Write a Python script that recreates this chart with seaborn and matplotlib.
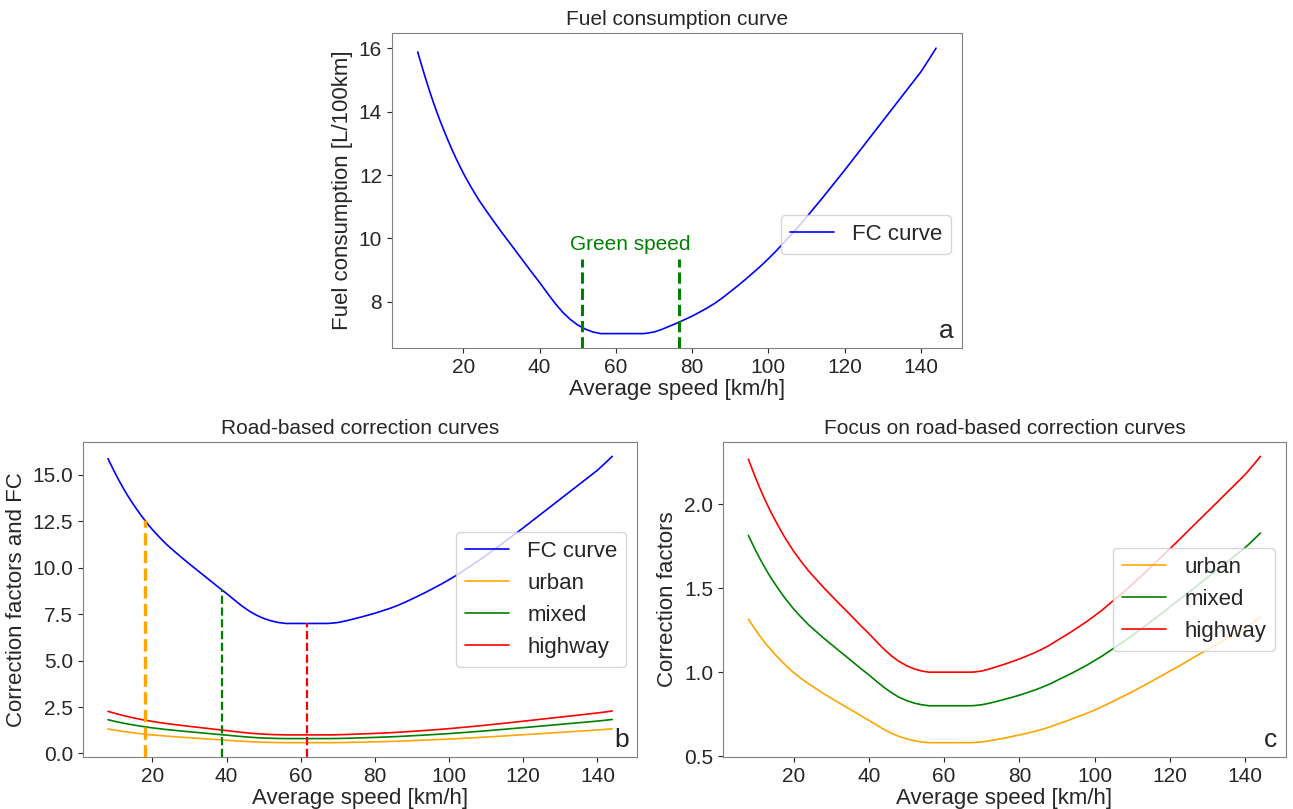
import numpy as np
import pandas as pd
import seaborn as sns
import matplotlib
matplotlib.use('Agg')
import matplotlib.pyplot as plt

# ---------- data ----------
speed = [8, 9, 10, 11, 12, 13, 14, 15, 16, 17, 18, 19, 20,
         22, 24, 26, 28, 30, 32, 34, 36, 38, 40, 42, 44, 46, 48, 50, 52, 54, 56,
         60, 64, 67, 68,
         70, 72, 74, 76, 78, 80, 82, 84, 86, 88, 90, 92, 94, 96, 98,
         100, 102, 104, 106, 108, 110, 112, 114, 116, 118,
         120, 122, 124, 126, 128, 130, 132, 134, 136, 138, 140, 142, 144]

fc = [15.88, 15.47, 15.07, 14.69, 14.33, 13.99, 13.67, 13.37, 13.08, 12.80, 12.54, 12.29, 12.05,
      11.62, 11.22, 10.87, 10.53, 10.20, 9.88, 9.56, 9.24, 8.92, 8.61, 8.28, 7.96, 7.68, 7.45, 7.27, 7.14, 7.05, 7.00,
      7.00, 7.00, 7.00, 7.01,
      7.05, 7.13, 7.23, 7.33, 7.44, 7.55, 7.68, 7.81, 7.96, 8.13, 8.32, 8.51, 8.71, 8.92, 9.13,
      9.36, 9.60, 9.86, 10.12, 10.39, 10.67, 10.96, 11.25, 11.55, 11.85,
      12.15, 12.46, 12.77, 13.08, 13.39, 13.70, 14.01, 14.32, 14.63, 14.94, 15.25, 15.62, 16.00]

highway = [2.269, 2.210, 2.153, 2.099, 2.047, 1.999, 1.953, 1.910, 1.869, 1.829, 1.791, 1.756, 1.721,
           1.660, 1.603, 1.553, 1.504, 1.457, 1.411, 1.366, 1.320, 1.274, 1.230, 1.183, 1.137, 1.097, 1.064, 1.039, 1.020, 1.007, 1.000,
           1.000, 1.000, 1.000, 1.001,
           1.007, 1.019, 1.033, 1.047, 1.063, 1.079, 1.097, 1.116, 1.137, 1.161, 1.189, 1.216, 1.244, 1.274, 1.304,
           1.337, 1.371, 1.409, 1.446, 1.484, 1.524, 1.566, 1.607, 1.650, 1.693,
           1.736, 1.780, 1.824, 1.869, 1.913, 1.957, 2.001, 2.046, 2.090, 2.134, 2.179, 2.231, 2.286]

mixed = [1.815, 1.768, 1.722, 1.679, 1.638, 1.599, 1.562, 1.528, 1.495, 1.463, 1.433, 1.405, 1.377,
         1.328, 1.282, 1.242, 1.203, 1.166, 1.129, 1.093, 1.056, 1.019, 0.984, 0.946, 0.910, 0.878, 0.851, 0.831, 0.816, 0.806, 0.800,
         0.800, 0.800, 0.800, 0.801,
         0.806, 0.815, 0.826, 0.838, 0.850, 0.863, 0.878, 0.893, 0.910, 0.929, 0.951, 0.973, 0.995, 1.019, 1.043,
         1.070, 1.097, 1.127, 1.157, 1.187, 1.219, 1.253, 1.286, 1.320, 1.354,
         1.389, 1.424, 1.459, 1.495, 1.530, 1.566, 1.601, 1.637, 1.672, 1.707, 1.743, 1.785, 1.829]

urban = [1.316, 1.282, 1.249, 1.217, 1.187, 1.159, 1.133, 1.108, 1.084, 1.061, 1.039, 1.018, 0.998,
         0.963, 0.930, 0.901, 0.872, 0.845, 0.818, 0.792, 0.766, 0.739, 0.713, 0.686, 0.659, 0.636, 0.617, 0.603, 0.592, 0.584, 0.580,
         0.580, 0.580, 0.580, 0.581,
         0.584, 0.591, 0.599, 0.607, 0.617, 0.626, 0.636, 0.647, 0.659, 0.673, 0.690, 0.705, 0.722, 0.739, 0.756,
         0.775, 0.795, 0.817, 0.839, 0.861, 0.884, 0.908, 0.932, 0.957, 0.982,
         1.007, 1.032, 1.058, 1.084, 1.110, 1.135, 1.161, 1.187, 1.212, 1.238, 1.264, 1.294, 1.326]

green_speed = [51.0, 76.5]
green_top = 9.35

road_types = ['urban', 'mixed', 'highway']
road_colors = ['orange', 'green', 'red']
road_speeds = [18.0, 38.8, 61.6]
road_fc = [12.55, 8.80, 7.00]
road_lw = [2.4, 1.6, 1.6]

df = pd.DataFrame({'speed': speed, 'FC curve': fc, 'urban': urban,
                   'mixed': mixed, 'highway': highway})

# ---------- style ----------
sns.set_style('ticks', {'axes.edgecolor': '0.5'})
plt.rcParams['font.family'] = ['Liberation Sans', 'DejaVu Sans']
plt.rcParams['font.size'] = 15
plt.rcParams['xtick.labelsize'] = 15
plt.rcParams['ytick.labelsize'] = 15
plt.rcParams['axes.labelsize'] = 16
plt.rcParams['axes.titlesize'] = 15
plt.rcParams['legend.fontsize'] = 16

fig = plt.figure(figsize=(12.93, 8.09), dpi=100)
ax_a = fig.add_axes([0.303, 0.570, 0.441, 0.389])
ax_b = fig.add_axes([0.064, 0.0643, 0.429, 0.3893])
ax_c = fig.add_axes([0.559, 0.0643, 0.4356, 0.3893])

# ---------- a: fuel consumption ----------
sns.lineplot(data=df, x='speed', y='FC curve', color='blue', lw=1.2,
             label='FC curve', ax=ax_a)
ymin = ax_a.get_ylim()[0]
ax_a.vlines(green_speed, ymin, green_top, colors='green', linestyles='dashed', lw=2.2)
ax_a.set_ylim(bottom=ymin)
ax_a.text(np.mean(green_speed), green_top + 0.15, 'Green speed', color='green',
          ha='center', va='bottom', fontsize=15)
ax_a.set_title('Fuel consumption curve')
ax_a.set_xlabel('Average speed [km/h]', labelpad=2)
ax_a.set_ylabel('Fuel consumption [L/100km]')
ax_a.set_yticks([8, 10, 12, 14, 16])
ax_a.legend(loc='center right', bbox_to_anchor=(1.0, 0.36))
ax_a.text(0.985, 0.015, 'a', transform=ax_a.transAxes, ha='right', va='bottom', fontsize=19)

# ---------- b: road-based correction ----------
sns.lineplot(data=df, x='speed', y='FC curve', color='blue', lw=1.2,
             label='FC curve', ax=ax_b)
for name, col in zip(road_types, road_colors):
    sns.lineplot(data=df, x='speed', y=name, color=col, lw=1.2, label=name, ax=ax_b)
ylo, yhi = ax_b.get_ylim()
for xs, top, col, lw in zip(road_speeds, road_fc, road_colors, road_lw):
    ax_b.vlines(xs, ylo, top, colors=col, linestyles='dashed', lw=lw)
ax_b.set_ylim(ylo, yhi)
ax_b.set_title('Road-based correction curves')
ax_b.set_xlabel('Average speed [km/h]', labelpad=2)
ax_b.set_ylabel('Correction factors and FC')
ax_b.set_yticks([0, 2.5, 5, 7.5, 10, 12.5, 15])
ax_b.set_yticklabels(['0.0', '2.5', '5.0', '7.5', '10.0', '12.5', '15.0'])
ax_b.legend(loc='center right', bbox_to_anchor=(1.0, 0.5))
ax_b.text(0.985, 0.015, 'b', transform=ax_b.transAxes, ha='right', va='bottom', fontsize=19)

# ---------- c: focus on correction curves ----------
for name, col in zip(road_types, road_colors):
    sns.lineplot(data=df, x='speed', y=name, color=col, lw=1.2, label=name, ax=ax_c)
ax_c.set_title('Focus on road-based correction curves')
ax_c.set_xlabel('Average speed [km/h]', labelpad=2)
ax_c.set_ylabel('Correction factors')
ax_c.set_yticks([0.5, 1.0, 1.5, 2.0])
ax_c.legend(loc='center right', bbox_to_anchor=(1.0, 0.5))
ax_c.text(0.985, 0.015, 'c', transform=ax_c.transAxes, ha='right', va='bottom', fontsize=19)

for ax in (ax_a, ax_b, ax_c):
    ax.set_xticks([20, 40, 60, 80, 100, 120, 140])
    for sp in ax.spines.values():
        sp.set_visible(True)

fig.savefig('out.png', dpi=100)
